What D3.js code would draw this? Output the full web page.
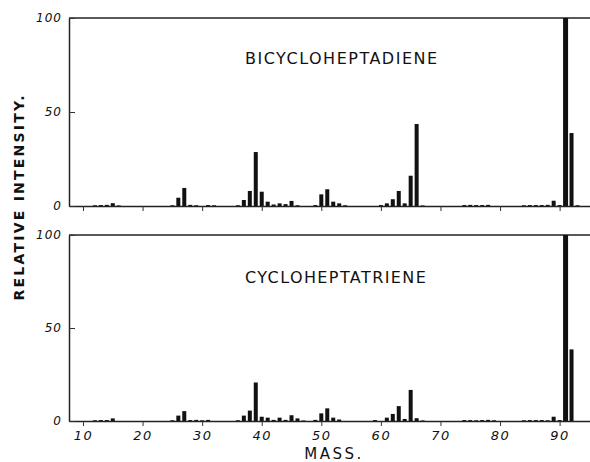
<!DOCTYPE html>
<html>
<head>
<meta charset="utf-8">
<script src="https://cdn.jsdelivr.net/npm/d3@7"></script>
<style>
  body { margin: 0; background: #fff; }
  svg { display: block; }
  text { font-family: "DejaVu Sans", sans-serif; fill: #111; }
</style>
</head>
<body>
<svg id="chart" width="590" height="462"></svg>
<script>
// Mass spectra, relative intensity (%) by mass number
var bicycloMass = [12, 13, 14, 15, 16, 25, 26, 27, 28, 29, 31, 32,
    36, 37, 38, 39, 40, 41, 42, 43, 44, 45, 46, 49, 50, 51, 52, 53, 54,
    60, 61, 62, 63, 64, 65, 66, 67, 74, 75, 76, 77, 78,
    84, 85, 86, 87, 88, 89, 90, 91, 92, 93];
var bicycloIntensity = [0.4, 0.5, 0.6, 1.5, 0.3, 0.4, 4.4, 9.6, 0.6, 0.4, 0.5, 0.4,
    0.4, 3.2, 8, 28.7, 7.6, 2.3, 0.8, 1.4, 1, 2.7, 0.4, 0.5, 6.2, 8.9, 2.3, 1.4, 0.4,
    0.5, 1.4, 3.6, 8, 1.4, 16.1, 43.6, 0.3, 0.5, 0.6, 0.5, 0.5, 0.6,
    0.4, 0.5, 0.5, 0.5, 0.6, 2.8, 0.5, 100, 38.8, 0.4];

var cycloMass = [12, 13, 14, 15, 25, 26, 27, 28, 29, 30, 31,
    36, 37, 38, 39, 40, 41, 42, 43, 44, 45, 46, 47, 49, 50, 51, 52, 53,
    59, 61, 62, 63, 64, 65, 66, 67, 74, 75, 76, 77, 78, 79,
    84, 85, 86, 87, 88, 89, 90, 91, 92];
var cycloIntensity = [0.4, 0.5, 0.5, 1.4, 0.4, 2.9, 5.3, 0.5, 0.6, 0.4, 0.6,
    0.4, 2.9, 5.6, 20.7, 2.3, 1.8, 0.6, 1.8, 0.6, 3.1, 1.4, 0.3, 0.6, 4.1, 6.8, 1.8, 0.8,
    0.5, 1.8, 3.8, 8, 1.1, 16.7, 1.5, 0.3, 0.5, 0.5, 0.4, 0.5, 0.6, 0.4,
    0.4, 0.5, 0.5, 0.5, 0.4, 2.3, 0.5, 100, 38.5];

var massTicks = [10, 20, 30, 40, 50, 60, 70, 80, 90];
var intensityTicks = [0, 50, 100];

var svg = d3.select("#chart");

var x = d3.scaleLinear().domain([7.65, 95.1]).range([69, 590]);
var barW = 4;

function drawPanel(name, masses, values, top, bottom, showLabels, titleY) {
    var y = d3.scaleLinear().domain([0, 100]).range([bottom, top]);
    var g = svg.append("g");

    // top border
    g.append("line")
        .attr("x1", x.range()[0]).attr("x2", x.range()[1])
        .attr("y1", y(100)).attr("y2", y(100))
        .attr("stroke", "#222").attr("stroke-width", 1.3);

    // bars (base peak drawn a bit heavier, as in the original)
    var data = masses.map((m, i) => ({mass: m, value: values[i]}));
    g.selectAll("rect")
        .data(data)
        .enter().append("rect")
        .attr("x", d => x(d.mass) - (d.value == 100 ? 5 : barW) / 2)
        .attr("y", d => y(d.value))
        .attr("width", d => d.value == 100 ? 5 : barW)
        .attr("height", d => y(0) - y(d.value))
        .attr("fill", "#111");

    // x axis
    var xAxis = g.append("g")
        .attr("transform", "translate(0," + y(0) + ")")
        .call(d3.axisBottom(x).tickValues(massTicks).tickSize(5).tickSizeOuter(0).tickPadding(5)
            .tickFormat(showLabels ? d3.format("d") : ""));
    xAxis.select(".domain").attr("stroke", "#222").attr("stroke-width", 1.5);
    xAxis.selectAll(".tick line").attr("stroke", "#333").attr("stroke-width", 1);
    xAxis.selectAll("text")
        .attr("font-family", "DejaVu Sans")
        .style("font-style", "italic")
        .style("letter-spacing", "1.5px")
        .attr("font-size", 13)
        .attr("fill", "#111");

    // y axis
    var yAxis = g.append("g")
        .attr("transform", "translate(" + x.range()[0] + ",0)")
        .call(d3.axisLeft(y).tickValues(intensityTicks).tickSizeInner(-6).tickSizeOuter(0).tickPadding(7));
    yAxis.select(".domain").attr("stroke", "#222").attr("stroke-width", 1.5);
    yAxis.selectAll(".tick line").attr("stroke", "#333").attr("stroke-width", 1);
    yAxis.selectAll("text")
        .attr("font-family", "DejaVu Sans")
        .style("font-style", "italic")
        .style("letter-spacing", "1px")
        .attr("font-size", 12)
        .attr("fill", "#111");

    // compound name
    g.append("text")
        .attr("x", 245)
        .attr("y", titleY)
        .attr("font-size", 16)
        .attr("textLength", name.length * 11.3)
        .attr("lengthAdjust", "spacing")
        .text(name);
}

drawPanel("BICYCLOHEPTADIENE", bicycloMass, bicycloIntensity, 18, 206, false, 64);
drawPanel("CYCLOHEPTATRIENE", cycloMass, cycloIntensity, 235, 421, true, 283);

// axis titles
svg.append("text")
    .attr("transform", "translate(24,198) rotate(-90)")
    .attr("text-anchor", "middle")
    .attr("font-size", 14)
    .attr("font-weight", "bold")
    .attr("textLength", 205)
    .attr("lengthAdjust", "spacing")
    .text("RELATIVE INTENSITY.");

svg.append("text")
    .attr("x", 334)
    .attr("y", 459)
    .attr("text-anchor", "middle")
    .attr("font-size", 15)
    .style("letter-spacing", "2.5px")
    .text("MASS.");
</script>
</body>
</html>
